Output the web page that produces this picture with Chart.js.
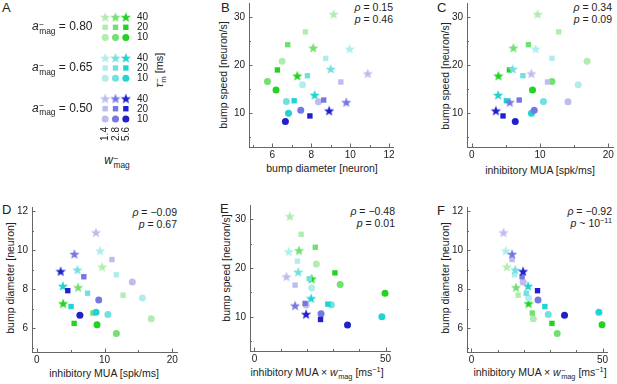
<!DOCTYPE html>
<html>
<head>
<meta charset="utf-8">
<title>bump speed and diameter vs inhibitory MUA</title>
<script src="https://cdn.jsdelivr.net/npm/chart.js@4.4.1/dist/chart.umd.min.js"></script>
<style>
  body { margin: 0; background: #fff; }
  #fig { position: relative; width: 617px; height: 384px; overflow: hidden;
         font-family: 'Liberation Sans', Arial, Helvetica, sans-serif; color: #222; }
  #fig canvas { position: absolute; }
  .lbl { position: absolute; white-space: nowrap; font-size: 10.5px; line-height: 1; transform: translate(-50%, -50%); }
  .rot { transform: translate(-50%, -50%) rotate(-90deg); }
  .left { transform: translate(0, -50%); }
  .letter { position: absolute; font-size: 13px; line-height: 1; }
  .stat { position: absolute; font-size: 10.5px; line-height: 12px; text-align: right; white-space: nowrap; }
  .ss { display: inline-block; vertical-align: -0.45em; font-size: 0.7em; line-height: 0.85; margin-left: 0.5px; }
  .ss span { display: block; }
  sup { font-size: 0.7em; line-height: 0; }
</style>
</head>
<body>
<div id="fig">
  <div class="letter" style="left:2px;top:1px">A</div>
  <div class="letter" style="left:221px;top:1px">B</div>
  <div class="letter" style="left:437px;top:1px">C</div>
  <div class="letter" style="left:2px;top:203px">D</div>
  <div class="letter" style="left:220px;top:202px">E</div>
  <div class="letter" style="left:437px;top:204px">F</div>

  <div class="stat" style="right:224px;top:1px"><i>ρ</i> = 0.15<br><i>p</i> = 0.46</div>
  <div class="stat" style="right:5px;top:1px"><i>ρ</i> = 0.34<br><i>p</i> = 0.09</div>
  <div class="stat" style="right:440px;top:206px"><i>ρ</i> = −0.09<br><i>p</i> = 0.67</div>
  <div class="stat" style="right:222px;top:205px"><i>ρ</i> = −0.48<br><i>p</i> = 0.01</div>
  <div class="stat" style="right:5px;top:205px"><i>ρ</i> = −0.92<br><i>p</i> ~ 10<sup>−11</sup></div>

  <div class="lbl" style="left:322px;top:168px">bump diameter [neuron]</div>
  <div class="lbl rot" style="left:223px;top:75px">bump speed [neuron/s]</div>
  <div class="lbl" style="left:540px;top:170px">inhibitory MUA [spk/ms]</div>
  <div class="lbl rot" style="left:445px;top:76px">bump speed [neuron/s]</div>
  <div class="lbl" style="left:104px;top:373px">inhibitory MUA [spk/ms]</div>
  <div class="lbl rot" style="left:10px;top:278px">bump diameter [neuron]</div>
  <div class="lbl" style="left:317px;top:374px">inhibitory MUA × <i>w</i><span class="ss"><span>−</span><span>mag</span></span> [ms<sup>−1</sup>]</div>
  <div class="lbl rot" style="left:226px;top:268px">bump speed [neuron/s]</div>
  <div class="lbl" style="left:540px;top:374px">inhibitory MUA × <i>w</i><span class="ss"><span>−</span><span>mag</span></span> [ms<sup>−1</sup>]</div>
  <div class="lbl rot" style="left:445px;top:278px">bump diameter [neuron]</div>

  <div class="lbl rot" style="left:161px;top:70px;font-size:11px"><i>τ</i><span class="ss"><span>−</span><span>m</span></span> [ms]</div>
  <div class="lbl" style="left:117px;top:161px;font-size:12px"><i>w</i><span class="ss"><span>−</span><span>mag</span></span></div>
</div>

<script>
Chart.defaults.font.family = "'Liberation Sans', Arial, Helvetica, sans-serif";
Chart.defaults.font.size = 10;
Chart.defaults.color = '#222';

// groups: a_mag (colour), tau_m [ms] (marker shape), w_mag (shade)
const aMagLabels = ['0.80', '0.65', '0.50'];
const tauLabels = ['10', '20', '40'];
const wMagLabels = ['1.4', '2.8', '5.6'];

// 27 runs, order: a_mag 0.80, 0.65, 0.50 / tau 10, 20, 40 / w 1.4, 2.8, 5.6
const bumpDiameter = [
  6.50, 5.75, 6.19,   7.70, 6.79, 6.26,   9.15, 8.10, 7.28,
  7.55, 6.72, 6.83,   8.74, 7.80, 7.12,   9.97, 9.00, 8.17,
  8.37, 7.46, 6.67,   9.52, 8.64, 7.93,   10.90, 9.80, 8.92
];
const bumpSpeed = [
  20.8, 16.6, 14.85,  26.9, 24.25, 19.0,  30.6, 23.6, 17.8,
  15.9, 12.45, 10.0,  21.4, 17.8, 12.6,   23.4, 19.2, 13.8,
  12.4, 10.65, 8.3,   16.5, 12.75, 9.45,  18.25, 12.3, 10.55
];
const inhMUA = [
  16.9, 11.75, 8.9,   12.75, 8.3, 5.52,   9.65, 6.1, 3.9,
  15.6, 10.5, 8.75,   11.75, 7.5, 5.07,   9.35, 6.0, 3.86,
  14.1, 9.15, 6.37,   11.1, 6.95, 4.58,   8.74, 5.56, 3.53
];
const inhMUAxW = [
  23.6, 32.7, 49.8,   17.8, 23.2, 30.7,   13.5, 17.0, 21.8,
  21.8, 29.3, 48.6,   16.4, 20.9, 28.0,   13.1, 16.7, 21.6,
  19.7, 25.4, 35.5,   15.5, 19.3, 25.2,   12.2, 15.5, 19.7
];

// tick values and which of them carry a label
const speedTicks = [5, 10, 15, 20, 25, 30];
const speedLabels = [10, 20, 30];
const diamTicks = [5, 6, 7, 8, 9, 10, 11, 12];
const diamLabels = [6, 8, 10, 12];
const muaTicks = [0, 5, 10, 15, 20];
const muaLabels = [0, 10, 20];
const muaWTicks = [0, 10, 20, 30, 40, 50];
const muaWLabels = [0, 50];

const palette = [
  ['#b1ecb1', '#72e072', '#22d322'],
  ['#b1eded', '#72e0e0', '#22d3d3'],
  ['#bcbcef', '#7777e2', '#2020cc']
];

const fig = document.getElementById('fig');

const starCache = {};
function star(color) {
  if (starCache[color]) return starCache[color];
  const c = document.createElement('canvas');
  c.width = 12; c.height = 12;
  const g = c.getContext('2d');
  g.fillStyle = color;
  g.beginPath();
  for (let i = 0; i < 10; i++) {
    const r = i % 2 ? 2.3 : 5.4;
    const a = -Math.PI / 2 + i * Math.PI / 5;
    g.lineTo(6 + r * Math.cos(a), 6.5 + r * Math.sin(a));
  }
  g.closePath();
  g.fill();
  starCache[color] = c;
  return c;
}

function marker(g, t, w) {
  const color = palette[g][w];
  if (t === 2) return {style: star(color), color: color, r: 5};
  if (t === 1) return {style: 'rect', color: color, r: 3.8};
  return {style: 'circle', color: color, r: 3.5};
}
const markers = bumpSpeed.map(function(v, i) {
  return marker(Math.floor(i / 9), Math.floor(i / 3) % 3, i % 3);
});

// Mathematica style ticks, pointing into the plot
const inwardTicks = {
  id: 'inwardTicks',
  beforeDatasetsDraw(chart) {
    const ctx = chart.ctx, a = chart.chartArea, sx = chart.scales.x, sy = chart.scales.y;
    ctx.save();
    ctx.strokeStyle = '#666';
    ctx.lineWidth = 1;
    ctx.beginPath();
    sx.ticks.forEach(function(tk) {
      const px = Math.round(sx.getPixelForValue(tk.value)) + 0.5;
      ctx.moveTo(px, a.bottom);
      ctx.lineTo(px, a.bottom - (tk.label ? 3.5 : 2));
    });
    sy.ticks.forEach(function(tk) {
      const py = Math.round(sy.getPixelForValue(tk.value)) + 0.5;
      ctx.moveTo(a.left, py);
      ctx.lineTo(a.left + (tk.label ? 3.5 : 2), py);
    });
    ctx.stroke();
    ctx.restore();
  }
};

function axis(spec, horizontal) {
  return {
    type: 'linear',
    min: spec.min,
    max: spec.max,
    grid: {display: false, drawTicks: false},
    border: {display: true, color: '#666', width: 1},
    ticks: {
      autoSkip: false,
      maxRotation: 0,
      padding: horizontal ? 2 : 4,
      font: {size: 10},
      callback: function(v) { return spec.labels.includes(v) ? String(v) : ''; }
    },
    afterBuildTicks: function(s) { s.ticks = spec.ticks.map(function(v) { return {value: v}; }); },
    afterFit: function(s) {
      if (horizontal) { s.height = 18; s.paddingLeft = 0; s.paddingRight = 0; }
      else { s.width = 30; s.paddingTop = 0; s.paddingBottom = 0; }
    }
  };
}

function scatterPanel(area, xs, ys, xSpec, ySpec) {
  const l = area[0], t = area[1], r = area[2], b = area[3];
  const canvas = document.createElement('canvas');
  canvas.width = r - l + 38;
  canvas.height = b - t + 24;
  canvas.style.left = (l - 30) + 'px';
  canvas.style.top = (t - 6) + 'px';
  fig.appendChild(canvas);
  return new Chart(canvas, {
    type: 'scatter',
    data: {
      datasets: [{
        data: xs.map(function(x, i) { return {x: x, y: ys[i]}; }),
        pointStyle: markers.map(function(m) { return m.style; }),
        pointRadius: markers.map(function(m) { return m.r; }),
        pointBackgroundColor: markers.map(function(m) { return m.color; }),
        pointBorderWidth: 0,
        clip: false
      }]
    },
    options: {
      responsive: false,
      animation: false,
      events: [],
      layout: {padding: {top: 6, right: 8, left: 0, bottom: 0}},
      plugins: {legend: {display: false}, tooltip: {enabled: false}},
      scales: {x: axis(xSpec, true), y: axis(ySpec, false)}
    },
    plugins: [inwardTicks]
  });
}

const speedAxis = {min: 3, max: 32.9, ticks: speedTicks, labels: speedLabels};
const diamAxis = {min: 4.8, max: 12.2, ticks: diamTicks, labels: diamLabels};
const muaAxis = {min: -0.7, max: 20.7, ticks: muaTicks, labels: muaLabels};
const muaWAxis = {min: -1.7, max: 51.7, ticks: muaWTicks, labels: muaWLabels};

scatterPanel([249, 3, 393, 147], bumpDiameter, bumpSpeed, diamAxis, speedAxis);
scatterPanel([467, 3, 613, 147], inhMUA, bumpSpeed, muaAxis, speedAxis);
scatterPanel([32, 207, 177, 352], inhMUA, bumpDiameter, muaAxis, diamAxis);
scatterPanel([250, 205, 390, 351], inhMUAxW, bumpSpeed, muaWAxis, speedAxis);
scatterPanel([467, 207, 607, 352], inhMUAxW, bumpDiameter, muaWAxis, diamAxis);

// panel A: key grid, columns = w_mag, rows = tau_m, blocks = a_mag
const keyPoints = [], keyMarkers = [];
aMagLabels.forEach(function(aLab, g) {
  tauLabels.forEach(function(tLab, t) {
    wMagLabels.forEach(function(wLab, w) {
      keyPoints.push({x: w + 1, y: (2 - g) * 4 + t});
      keyMarkers.push(marker(g, t, w));
    });
  });
});
const keyCanvas = document.createElement('canvas');
keyCanvas.width = 47;
keyCanvas.height = 130;
keyCanvas.style.left = '92px';
keyCanvas.style.top = '3px';
fig.appendChild(keyCanvas);
const keyChart = new Chart(keyCanvas, {
  type: 'scatter',
  data: {
    datasets: [{
      data: keyPoints,
      pointStyle: keyMarkers.map(function(m) { return m.style; }),
      pointRadius: keyMarkers.map(function(m) { return m.r; }),
      pointBackgroundColor: keyMarkers.map(function(m) { return m.color; }),
      pointBorderWidth: 0,
      clip: false
    }]
  },
  options: {
    responsive: false,
    animation: false,
    events: [],
    layout: {padding: 8},
    plugins: {legend: {display: false}, tooltip: {enabled: false}},
    scales: {
      x: {display: false, min: 0.5, max: 3.5},
      y: {display: false, min: -0.6, max: 10.6}
    }
  }
});

function addLabel(html, x, y, cls, size) {
  const d = document.createElement('div');
  d.className = 'lbl ' + cls;
  d.style.left = x + 'px';
  d.style.top = y + 'px';
  d.style.fontSize = size + 'px';
  d.innerHTML = html;
  fig.appendChild(d);
}
aMagLabels.forEach(function(aLab, g) {
  tauLabels.forEach(function(tLab, t) {
    const py = 3 + keyChart.scales.y.getPixelForValue((2 - g) * 4 + t);
    addLabel(tLab, 137, py, 'left', 10);
  });
  const pyMid = 3 + keyChart.scales.y.getPixelForValue((2 - g) * 4 + 1);
  addLabel('<i>a</i><span class="ss"><span>−</span><span>mag</span></span> = ' + aLab, 32, pyMid, 'left', 12);
});
wMagLabels.forEach(function(wLab, w) {
  const px = 92 + keyChart.scales.x.getPixelForValue(w + 1);
  addLabel(wLab, px, 134, 'rot', 10);
});
</script>
</body>
</html>
